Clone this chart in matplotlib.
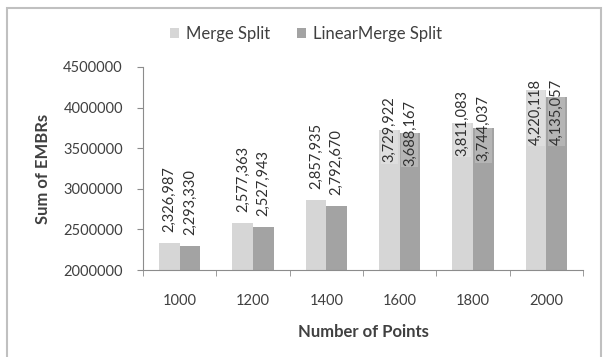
import matplotlib.pyplot as plt
import numpy as np
from matplotlib.patches import Rectangle

points = ["1000", "1200", "1400", "1600", "1800", "2000"]
merge_split = [2326987, 2577363, 2857935, 3729922, 3811083, 4220118]
linear_merge_split = [2293330, 2527943, 2792670, 3688167, 3744037, 4135057]
series_names = ["Merge Split", "LinearMerge Split"]
yticks = [2000000, 2500000, 3000000, 3500000, 4000000, 4500000]

plt.rcParams['font.family'] = ['Lato', 'DejaVu Sans']

light = "#d6d6d6"
dark = "#a3a3a3"
axis_grey = "#8c8c8c"
text_grey = "#404040"

fig = plt.figure(figsize=(6.09, 3.57), dpi=100)
# outer chart frame, open at the bottom
fig.patches.append(Rectangle((7 / 609, -0.1), 594 / 609, 1.1 - 8 / 357,
                             transform=fig.transFigure, fill=False,
                             edgecolor="#c0c0c0", linewidth=1.5))

ax = fig.add_axes([143 / 609, 87 / 357, 440 / 609, 203 / 357])
x = np.arange(len(points))
w = 0.28
b1 = ax.bar(x - w / 2, merge_split, w, color=light, label=series_names[0])
b2 = ax.bar(x + w / 2, linear_merge_split, w, color=dark, label=series_names[1])

ax.set_ylim(2000000, 4500000)
ax.set_xlim(-0.5, len(points) - 0.5)
ax.set_yticks(yticks)
ax.set_yticklabels([str(v) for v in yticks], fontsize=10.5, color=text_grey)
ax.set_xticks(x)
ax.set_xticklabels(points, fontsize=10.5, color=text_grey)
ax.set_xticks(np.arange(-0.5, len(points)), minor=True)
ax.tick_params(axis='x', which='major', length=0, pad=17)
ax.tick_params(axis='x', which='minor', length=4.5, color=axis_grey)
ax.tick_params(axis='y', length=4.5, color=axis_grey, pad=10)
for s in ["top", "right"]:
    ax.spines[s].set_visible(False)
for s in ["left", "bottom"]:
    ax.spines[s].set_color(axis_grey)

ax.set_xlabel("Number of Points", fontsize=12, fontweight="bold",
              color=text_grey, labelpad=12)
ax.set_ylabel("Sum of EMBRs", fontsize=12, fontweight="bold",
              color=text_grey, labelpad=9)

# value labels, rotated like Excel data labels
for bars, vals in [(b1, merge_split), (b2, linear_merge_split)]:
    for bar, v in zip(bars, vals):
        cx = bar.get_x() + bar.get_width() / 2
        txt = f"{v:,}"
        if v < 3500000:
            ax.annotate(txt, (cx, v), xytext=(0, 8), textcoords="offset points",
                        rotation=90, ha="center", va="bottom", fontsize=10.5,
                        color="#303030", annotation_clip=False)
        else:
            ax.text(cx, min(v, 3950000), txt, rotation=90, ha="center",
                    va="center", fontsize=10.5, color="#303030",
                    bbox=dict(facecolor="white", alpha=0.2, edgecolor="none", pad=1))

fig.legend(handles=[b1, b2], loc="center", bbox_to_anchor=(306 / 609, 1 - 34 / 357),
           ncol=2, frameon=False, fontsize=12, handlelength=0.55, handleheight=0.55,
           handletextpad=0.4, columnspacing=1.6, labelcolor=text_grey)

fig.savefig("out.png", dpi=100)
